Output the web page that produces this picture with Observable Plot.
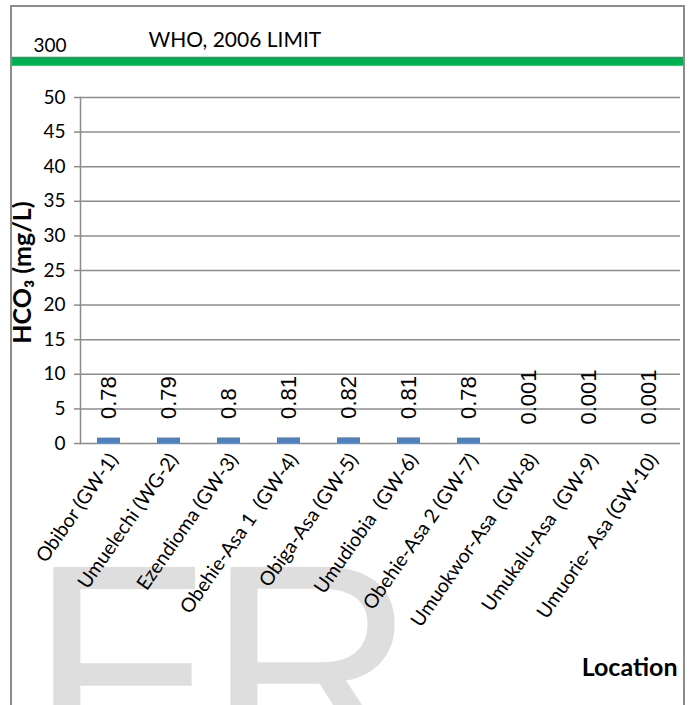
<!DOCTYPE html>
<html>
<head>
<meta charset="utf-8">
<script src="https://cdn.jsdelivr.net/npm/d3@7"></script>
<script src="https://cdn.jsdelivr.net/npm/@observablehq/plot@0.6"></script>
<style>
  html, body { margin: 0; padding: 0; background: #fff; }
  #wrap { position: relative; width: 691px; height: 705px; overflow: hidden; background: #fff; }
  #border { position: absolute; left: 10px; top: 5px; width: 671px; height: 760px; border: 2px solid #8c8c8c; pointer-events: none; }
  #wrap svg text { white-space: pre; }
</style>
</head>
<body>
<div id="wrap"><div id="border"></div></div>
<script>
// Sampling locations (groundwater wells)
const locations = [
  "Obibor (GW-1)",
  "Umuelechi (WG-2)",
  "Ezendioma (GW-3)",
  "Obehie-Asa 1  (GW-4)",
  "Obiga-Asa (GW-5)",
  "Umudiobia  (GW-6)",
  "Obehie-Asa 2 (GW-7)",
  "Umuokwor-Asa  (GW-8)",
  "Umukalu-Asa  (GW-9)",
  "Umuorie- Asa (GW-10)"
];

// Bicarbonate concentration, mg/L
const hco3 = [0.78, 0.79, 0.8, 0.81, 0.82, 0.81, 0.78, 0.001, 0.001, 0.001];

// Value axis ticks
const yTicks = [0, 5, 10, 15, 20, 25, 30, 35, 40, 45, 50];

// WHO 2006 guideline limit, drawn above a break in the value axis
const whoLimit = 300;
const whoLabel = "WHO, 2006 LIMIT";

const yTitle = "HCO₃ (mg/L)";
const xTitle = "Location";
const watermark = "FR";

const grid = "#8c8c8c";
const barColor = "#4f81bd";
const limitColor = "#00b050";

// axis break: values above 50 are compressed into a short strip above the plot
const axisBreak = v => (v <= 50 ? v : 50 + (v - 50) * 0.021);

const chart = Plot.plot({
  width: 691,
  height: 705,
  marginLeft: 80,
  marginRight: 11,
  marginTop: 97,
  marginBottom: 262,
  style: { fontFamily: "Lato, sans-serif", fontSize: "19px", color: "#000", background: "transparent", overflow: "visible" },
  x: { type: "band", domain: locations, range: [78, 678], paddingInner: 0.617, paddingOuter: 0.3085, axis: null },
  y: { domain: [0, 50], transform: axisBreak, axis: null },
  marks: [
    Plot.text([watermark], {
      frameAnchor: "bottom-left", textAnchor: "start", lineAnchor: "bottom",
      dx: -51, dy: 323, fontSize: 290, fontFamily: "Liberation Sans, Arial, sans-serif",
      fill: "#dedede"
    }),
    Plot.ruleY(yTicks, { stroke: grid, strokeWidth: 1.5 }),
    Plot.axisY(yTicks, {
      tickSize: 6, tickPadding: 9, stroke: grid, strokeWidth: 1.5,
      tickFormat: d => String(d), label: null, fill: "#000", fontSize: 19
    }),
    Plot.frame({ anchor: "left", stroke: grid, strokeWidth: 1.5 }),
    Plot.barY(locations, { x: locations, y: hco3, fill: barColor }),
    Plot.text(locations, {
      x: locations, y: hco3, text: hco3.map(String),
      rotate: -90, textAnchor: "start", lineAnchor: "middle",
      dy: -19, fontSize: 22, fontFamily: "Liberation Sans, Arial, sans-serif", fill: "#000"
    }),
    Plot.text(locations, {
      x: locations, text: locations, frameAnchor: "bottom",
      rotate: -55, textAnchor: "end", lineAnchor: "bottom",
      dx: 10, dy: 16, fontSize: 19.5, fill: "#000"
    }),
    Plot.ruleY([whoLimit], { stroke: limitColor, strokeWidth: 9, insetLeft: -70, insetRight: -3 }),
    Plot.text([whoLimit], {
      y: d => d, text: d => String(d), frameAnchor: "left",
      textAnchor: "start", lineAnchor: "bottom", dx: -47, dy: -9, fontSize: 19, fill: "#000"
    }),
    Plot.text([whoLabel], {
      y: [whoLimit], frameAnchor: "left",
      textAnchor: "start", lineAnchor: "bottom", dx: 68, dy: -14, fontSize: 21, fill: "#000"
    }),
    Plot.text([yTitle], {
      frameAnchor: "left", rotate: -90, textAnchor: "middle", lineAnchor: "middle",
      dx: -58, dy: 2, fontSize: 25, fontWeight: "bold", fill: "#000"
    }),
    Plot.text([xTitle], {
      frameAnchor: "bottom-right", textAnchor: "end", lineAnchor: "bottom",
      dx: -3, dy: 232, fontSize: 25, fontWeight: "bold", fill: "#000"
    })
  ]
});

document.getElementById("wrap").prepend(chart);
</script>
</body>
</html>
